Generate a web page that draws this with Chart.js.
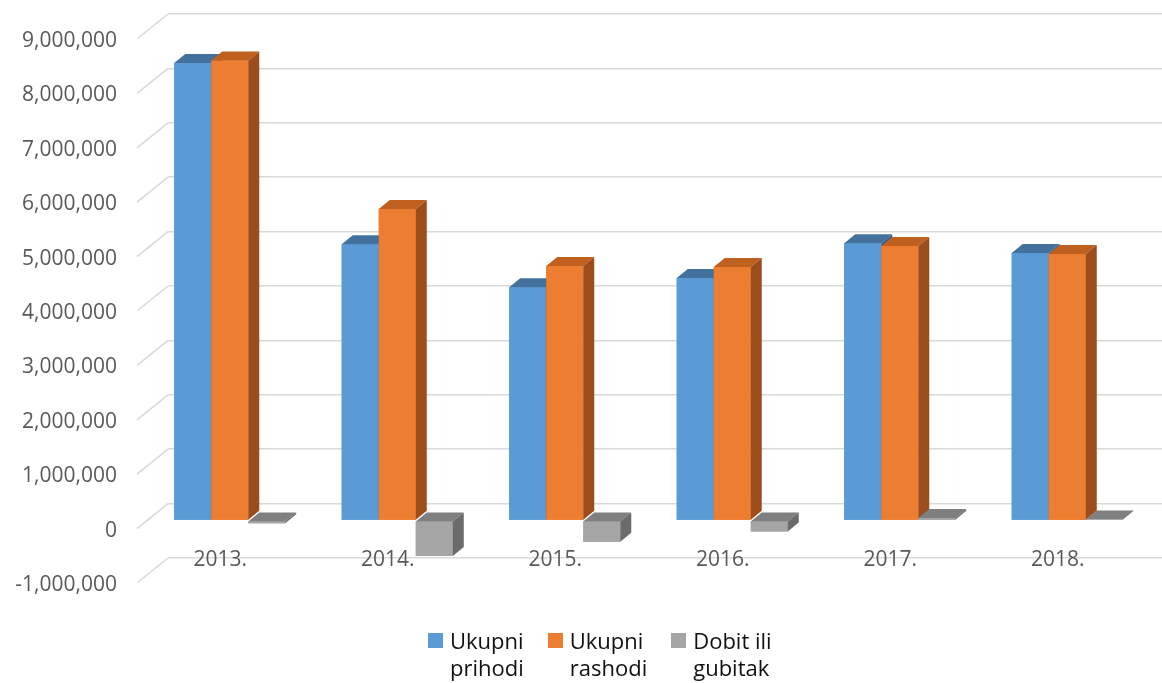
<!DOCTYPE html>
<html>
<head>
<meta charset="utf-8">
<script src="https://cdn.jsdelivr.net/npm/chart.js@4.4.1/dist/chart.umd.min.js"></script>
<style>
html,body{margin:0;padding:0;background:#fff;overflow:hidden;}
#wrap{position:relative;width:1162px;height:683px;overflow:hidden;}
#c{position:absolute;left:0;top:0;}
#legend{position:absolute;left:428px;top:627px;display:flex;gap:24px;font-family:"Open Sans",sans-serif;font-size:22px;line-height:27px;color:#111;}
.item{display:flex;align-items:flex-start;}
.sw{width:15px;height:15px;margin-top:6px;margin-right:7px;flex:none;}
.txt{white-space:nowrap;}
</style>
</head>
<body>
<div id="wrap">
  <canvas id="c" width="1173" height="683"></canvas>
  <div id="legend"></div>
</div>
<script>
// ---- data ----
const categories = ['2013.', '2014.', '2015.', '2016.', '2017.', '2018.'];
const seriesNames = ['Ukupni prihodi', 'Ukupni rashodi', 'Dobit ili gubitak'];
const prihodi = [8410000, 5080000, 4290000, 4460000, 5100000, 4920000];
const rashodi = [8460000, 5730000, 4680000, 4660000, 5050000, 4900000];
const dobit   = [-50000, -650000, -390000, -200000, 50000, 20000];
const yMin = -1000000, yMax = 9000000, yStep = 1000000;

// ---- styles ----
const frontColors = ['#5B9BD5', '#ED7D31', '#A5A5A5'];
const topColors   = ['#41719C', '#C0601F', '#7F7F7F'];
const sideColors  = ['#35608A', '#9C4D1B', '#6B6B6B'];
const gridColor = '#D9D9D9';
const labelFont = '21px "Open Sans"';
const labelColor = '#595959';
const DX = 11, DY = -9;            // bar depth
const SHIFT_X = -22, SHIFT_Y = 17; // front plane offset from back wall
const DIAG_X = 31, DIAG_Y = 25;    // floor diagonal for axis lines
const XLABEL_DX = -31.5, XLABEL_Y_FROM_BOTTOM = 2;

const bar3d = {
  id: 'bar3d',
  beforeDatasetsDraw(chart) {
    const ctx = chart.ctx;
    const ys = chart.scales.y;
    const left = chart.chartArea.left;
    ctx.save();
    ctx.strokeStyle = gridColor;
    ctx.lineWidth = 1.6;
    ys.ticks.forEach(t => {
      const y = ys.getPixelForValue(t.value);
      ctx.beginPath();
      ctx.moveTo(left - DIAG_X, y + DIAG_Y);
      ctx.lineTo(left, y);
      ctx.stroke();
    });
    ctx.restore();
    ctx.save();
    ctx.translate(SHIFT_X, SHIFT_Y);
  },
  afterDatasetsDraw(chart) {
    const ctx = chart.ctx;
    const metas = [0, 1, 2].map(i => chart.getDatasetMeta(i));
    for (let j = 0; j < categories.length; j++) {
      for (let d = 0; d < metas.length; d++) {
        const el = metas[d].data[j];
        if (!el) continue;
        const p = el.getProps(['x', 'y', 'base', 'width'], true);
        const l = p.x - p.width / 2, r = p.x + p.width / 2;
        const t = Math.min(p.y, p.base), b = Math.max(p.y, p.base);
        ctx.fillStyle = frontColors[d];
        ctx.fillRect(l, t, p.width, b - t);
        ctx.fillStyle = topColors[d];
        ctx.beginPath();
        ctx.moveTo(l, t); ctx.lineTo(r, t); ctx.lineTo(r + DX, t + DY); ctx.lineTo(l + DX, t + DY);
        ctx.closePath(); ctx.fill();
        ctx.fillStyle = sideColors[d];
        ctx.beginPath();
        ctx.moveTo(r, t); ctx.lineTo(r + DX, t + DY); ctx.lineTo(r + DX, b + DY); ctx.lineTo(r, b);
        ctx.closePath(); ctx.fill();
      }
    }
    ctx.restore();
    // category labels on the floor front edge
    const xs = chart.scales.x;
    ctx.save();
    ctx.font = labelFont;
    ctx.fillStyle = labelColor;
    ctx.textAlign = 'center';
    ctx.textBaseline = 'middle';
    categories.forEach((c, i) => {
      ctx.fillText(c, xs.getPixelForValue(i) + XLABEL_DX, chart.chartArea.bottom + XLABEL_Y_FROM_BOTTOM);
    });
    ctx.restore();
  }
};

const series = [prihodi, rashodi, dobit];
new Chart(document.getElementById('c'), {
  type: 'bar',
  data: {
    labels: categories,
    datasets: series.map((vals, i) => ({
      label: seriesNames[i],
      data: vals,
      backgroundColor: frontColors[i],
      borderWidth: 0,
      clip: false
    }))
  },
  options: {
    responsive: false,
    animation: false,
    devicePixelRatio: 1,
    layout: { padding: { left: 0, right: 0, top: 14, bottom: 0 } },
    datasets: { bar: { categoryPercentage: 0.663, barPercentage: 1 } },
    plugins: { legend: { display: false }, tooltip: { enabled: false } },
    scales: {
      x: {
        offset: true,
        grid: { display: false, drawTicks: false },
        border: { display: false },
        ticks: { display: false, autoSkip: false },
        afterFit: s => { s.height = 125; s.paddingLeft = 0; s.paddingRight = 0; }
      },
      y: {
        min: yMin, max: yMax,
        grid: { color: gridColor, lineWidth: 1.6, drawTicks: false },
        border: { display: false },
        ticks: {
          stepSize: yStep,
          font: { family: 'Open Sans', size: 21 },
          color: labelColor,
          padding: 51,
          labelOffset: 27,
          callback: v => Number(v).toLocaleString('en-US')
        },
        afterFit: s => { s.width = 168; s.paddingTop = 0; s.paddingBottom = 0; }
      }
    }
  },
  plugins: [bar3d]
});

// ---- HTML legend ----
const legend = document.getElementById('legend');
seriesNames.forEach((name, i) => {
  const k = name.lastIndexOf(' ');
  const item = document.createElement('div'); item.className = 'item';
  const sw = document.createElement('div'); sw.className = 'sw'; sw.style.background = frontColors[i];
  const txt = document.createElement('div'); txt.className = 'txt';
  txt.appendChild(document.createTextNode(name.slice(0, k)));
  txt.appendChild(document.createElement('br'));
  txt.appendChild(document.createTextNode(name.slice(k + 1)));
  item.appendChild(sw); item.appendChild(txt);
  legend.appendChild(item);
});
</script>
</body>
</html>
